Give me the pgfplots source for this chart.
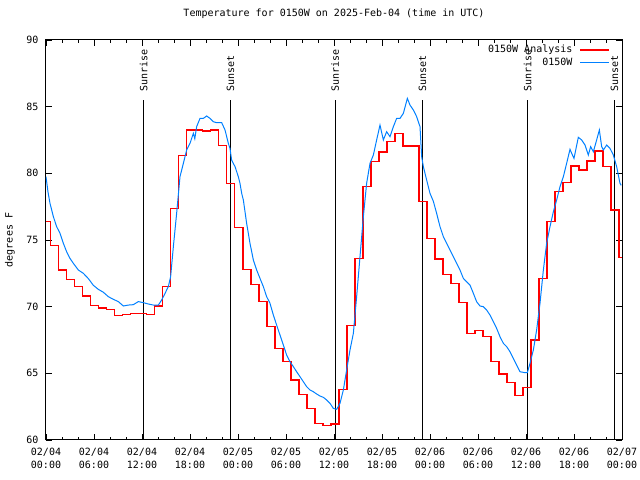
\documentclass[border=0pt]{standalone}
\usepackage{fontspec}
\setmainfont{DejaVu Sans Mono}
\usepackage{pgfplots}
\pgfplotsset{compat=1.18}
\definecolor{obsblue}{RGB}{0,128,255}
\begin{document}
\begin{tikzpicture}[font=\fontsize{10bp}{13bp}\selectfont]
\useasboundingbox (-46bp,-40bp) rectangle (594bp,440bp);
\begin{axis}[
  at={(0,0)}, anchor=south west,
  scale only axis, width=576bp, height=400bp,
  xmin=0, xmax=72, ymin=60, ymax=90,
  axis line style={black, line width=1bp},
  tick style={black, line width=0.8bp},
  tick align=inside,
  major tick length=6bp, minor tick length=3bp,
  xtick={0,6,...,72},
  minor x tick num=2,
  xticklabels={02/04\\00:00,02/04\\06:00,02/04\\12:00,02/04\\18:00,02/05\\00:00,02/05\\06:00,02/05\\12:00,02/05\\18:00,02/06\\00:00,02/06\\06:00,02/06\\12:00,02/06\\18:00,02/07\\00:00},
  xticklabel style={font=\fontsize{10bp}{13bp}\selectfont, align=center, yshift=-5bp},
  ytick={60,65,...,90},
  yticklabels={60,65,70,75,80,85,90},
  yticklabel style={xshift=-4bp},
  ylabel={degrees F},
  y label style={at={(axis description cs:-0.0625,0.5)}, anchor=center},
  title={Temperature for 0150W on 2025-Feb-04 (time in UTC)},
  title style={at={(axis description cs:0.5,1)}, anchor=center, yshift=20bp},
  legend style={at={(rel axis cs:1,1)}, anchor=north east, xshift=-12bp, yshift=-5bp,
    draw=none, fill=none, inner sep=0pt, row sep=2.7bp, column sep=7bp,
    nodes={inner sep=0pt, text height=7.5bp, text depth=2.5bp}},
  legend cell align=right,
  legend plot pos=right,
  legend image code/.code={\draw[#1] (0bp,0bp) -- (29bp,0bp);},
]
\addplot[black, line width=1bp, forget plot] coordinates {(12.2,60) (12.2,85.5)};
\addplot[black, line width=1bp, forget plot] coordinates {(23.05,60) (23.05,85.5)};
\addplot[black, line width=1bp, forget plot] coordinates {(36.15,60) (36.15,85.5)};
\addplot[black, line width=1bp, forget plot] coordinates {(47.05,60) (47.05,85.5)};
\addplot[black, line width=1bp, forget plot] coordinates {(60.2,60) (60.2,85.5)};
\addplot[black, line width=1bp, forget plot] coordinates {(71.05,60) (71.05,85.5)};

\addplot[red, line width=1.4bp, const plot] coordinates {
(0,76.4) (0.6,74.6) (1.6,72.75) (2.6,72.05) (3.6,71.5) (4.6,70.8) (5.6,70.07) (6.6,69.9)
(7.6,69.8) (8.6,69.33) (9.6,69.43) (10.6,69.5) (11.6,69.5) (12.6,69.43) (13.6,70.05) (14.6,71.5)
(15.6,77.35) (16.6,81.35) (17.6,83.25) (18.6,83.25) (19.6,83.17) (20.6,83.25) (21.6,82.1) (22.6,79.25)
(23.6,75.95) (24.6,72.8) (25.6,71.65) (26.6,70.4) (27.6,68.5) (28.6,66.87) (29.6,65.87) (30.6,64.5)
(31.6,63.42) (32.6,62.37) (33.6,61.25) (34.6,61.1) (35.6,61.2) (36.6,63.8) (37.6,68.6) (38.6,73.6)
(39.6,79.0) (40.6,80.9) (41.6,81.6) (42.6,82.4) (43.6,83.0) (44.6,82.05) (45.6,82.05) (46.6,77.87)
(47.6,75.12) (48.6,73.57) (49.6,72.42) (50.6,71.75) (51.6,70.3) (52.6,68.0) (53.6,68.2) (54.6,67.75)
(55.6,65.87) (56.6,64.95) (57.6,64.32) (58.6,63.35) (59.6,63.95) (60.6,67.5) (61.6,72.12) (62.6,76.37)
(63.6,78.65) (64.6,79.32) (65.6,80.55) (66.6,80.25) (67.6,80.93) (68.6,81.67) (69.6,80.5) (70.6,77.25)
(71.6,73.67) (72,73.67)
};
\addlegendentry{0150W Analysis}

\addplot[obsblue, line width=1bp] coordinates {
(0.0,79.75) (0.25,78.6) (0.5,77.75) (0.92,76.75) (1.33,76.0) (1.75,75.5) (2.17,74.75) (2.58,74.12)
(3.0,73.62) (3.42,73.25) (4.04,72.75) (4.67,72.5) (5.3,72.1) (5.92,71.6) (6.54,71.3) (7.17,71.08)
(7.79,70.75) (8.42,70.55) (9.04,70.38) (9.67,70.05) (10.29,70.12) (10.92,70.15) (11.54,70.38) (12.17,70.3)
(12.79,70.2) (13.42,70.12) (14.04,70.12) (14.46,70.5) (14.88,71.0) (15.29,71.5) (15.58,72.25) (15.92,74.5)
(16.33,77.0) (16.75,79.75) (17.17,80.75) (17.58,81.75) (18.0,82.25) (18.42,83.0) (18.6,82.6) (18.83,83.5)
(19.25,84.12) (19.67,84.12) (20.08,84.3) (20.5,84.12) (20.92,83.87) (21.33,83.8) (21.96,83.8) (22.38,83.25)
(22.79,82.25) (23.0,81.87) (23.2,81.0) (23.63,80.5) (24.04,79.75) (24.25,79.25) (24.46,78.5) (24.67,78.0)
(25.08,76.25) (25.5,74.75) (25.92,73.5) (26.33,72.75) (26.75,72.12) (27.17,71.5) (27.58,70.75) (28.0,70.25)
(28.42,69.37) (28.83,68.62) (29.25,67.87) (29.67,67.12) (30.08,66.37) (30.5,65.87) (30.92,65.5) (31.33,65.12)
(31.75,64.75) (32.17,64.37) (32.58,64.0) (33.0,63.75) (33.42,63.62) (33.83,63.45) (34.25,63.3) (34.67,63.2)
(35.08,63.0) (35.5,62.75) (35.92,62.37) (36.33,62.3) (36.75,62.75) (37.17,63.75) (37.58,65.25) (38.0,66.75)
(38.42,68.0) (38.83,70.75) (39.25,73.75) (39.67,76.75) (40.08,79.25) (40.5,80.75) (40.92,81.37) (41.33,82.5)
(41.75,83.62) (42.17,82.5) (42.58,83.12) (43.0,82.75) (43.42,83.5) (43.83,84.12) (44.25,84.12) (44.67,84.5)
(45.17,85.62) (45.5,85.12) (45.92,84.75) (46.33,84.25) (46.75,83.5) (46.96,81.25) (47.17,80.5) (47.58,79.5)
(48.0,78.5) (48.42,77.9) (48.83,77.0) (49.25,76.0) (49.67,75.25) (50.08,74.75) (50.5,74.25) (50.92,73.75)
(51.33,73.25) (51.75,72.75) (52.17,72.12) (52.58,71.87) (53.0,71.62) (53.42,71.0) (53.83,70.37) (54.25,70.05)
(54.67,70.0) (55.08,69.75) (55.5,69.37) (55.92,68.87) (56.33,68.37) (56.75,67.75) (57.17,67.25) (57.58,67.0)
(58.0,66.62) (58.42,66.12) (58.83,65.62) (59.25,65.12) (59.88,65.05) (60.17,65.05) (60.5,65.75) (60.92,66.75)
(61.33,68.25) (61.75,70.25) (62.17,72.75) (62.58,74.75) (63.0,76.0) (63.42,77.12) (63.83,78.0) (64.25,79.0)
(64.67,79.75) (65.08,80.75) (65.5,81.8) (65.71,81.5) (66.0,81.12) (66.54,82.7) (66.96,82.5) (67.38,82.12)
(67.79,81.37) (68.08,82.0) (68.42,81.62) (68.83,82.5) (69.17,83.25) (69.46,82.0) (69.67,81.75) (70.08,82.12)
(70.5,81.87) (70.92,81.37) (71.33,80.5) (71.75,79.25) (71.9,79.1)
};
\addlegendentry{0150W}

\node[rotate=90, anchor=west, inner sep=0pt] at (axis cs:12.2,86.1) {Sunrise};
\node[rotate=90, anchor=west, inner sep=0pt] at (axis cs:23.05,86.1) {Sunset};
\node[rotate=90, anchor=west, inner sep=0pt] at (axis cs:36.15,86.1) {Sunrise};
\node[rotate=90, anchor=west, inner sep=0pt] at (axis cs:47.05,86.1) {Sunset};
\node[rotate=90, anchor=west, inner sep=0pt] at (axis cs:60.2,86.1) {Sunrise};
\node[rotate=90, anchor=west, inner sep=0pt] at (axis cs:71.05,86.1) {Sunset};
\end{axis}
\end{tikzpicture}
\end{document}
